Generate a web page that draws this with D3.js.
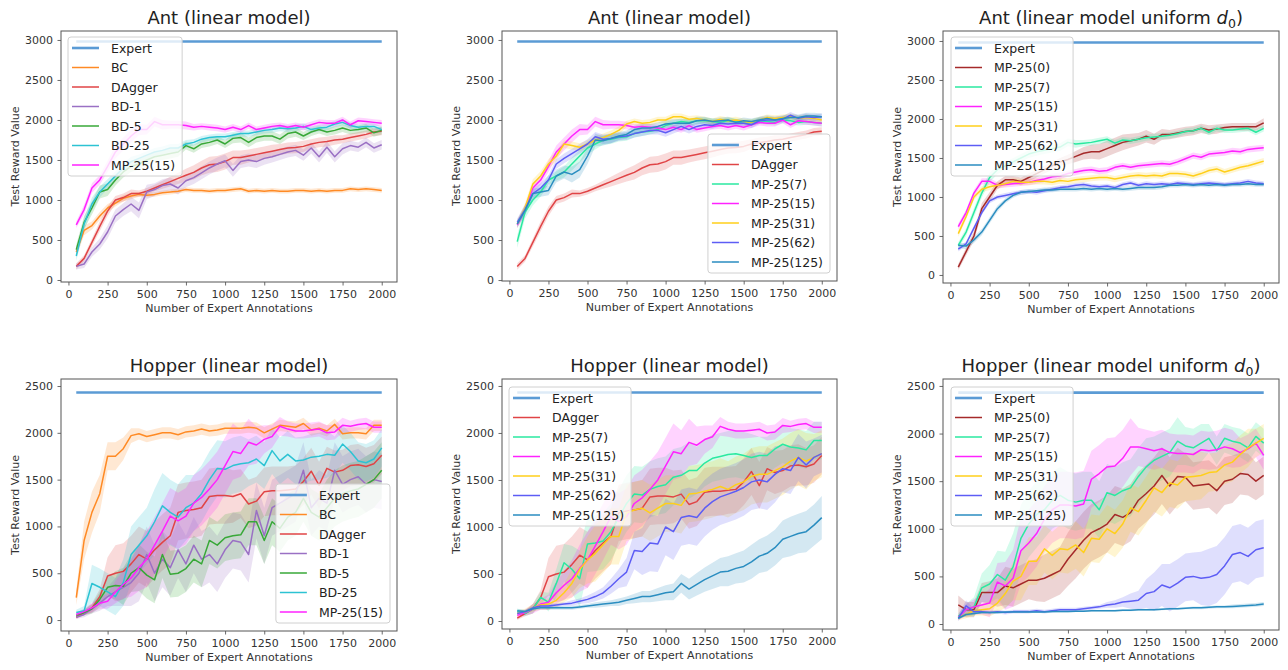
<!DOCTYPE html>
<html>
<head>
<meta charset="utf-8">
<script src="https://cdnjs.cloudflare.com/ajax/libs/d3/7.8.5/d3.min.js"></script>
<style>
body { margin: 0; background: #fff; }
svg { font-family: "DejaVu Sans", sans-serif; }
</style>
</head>
<body>
<script>
// x positions: number of expert annotations
var annotations = [50,100,150,200,250,300,350,400,450,500,550,600,650,700,750,800,850,900,950,1000,
  1050,1100,1150,1200,1250,1300,1350,1400,1450,1500,1550,1600,1650,1700,1750,1800,1850,1900,1950,2000];
var xTicks = [0,250,500,750,1000,1250,1500,1750,2000];
var antTicks = [0,500,1000,1500,2000,2500,3000];
var hopTicks = [0,500,1000,1500,2000,2500];

var antExpert = 2980;
var hopExpert = 2430;

// ---- Ant (linear model) ----
var antBC = [350,620,680,800,900,960,1020,1050,1070,1060,1070,1090,1100,1110,1130,1120,1120,1110,1120,1120,1130,1140,1110,1120,1110,1120,1110,1110,1120,1120,1110,1120,1110,1120,1120,1140,1130,1140,1130,1120];
var antBCSd = [60,60,50,50,50,40,40,40,30,30,30,30,30,30,30,30,30,30,30,30,30,30,30,30,30,30,30,30,30,30,30,30,30,30,30,30,30,30,30,30];
var antDAgger = [170,270,470,670,860,1000,1030,1080,1080,1110,1150,1190,1230,1270,1310,1345,1400,1440,1450,1480,1530,1530,1550,1570,1590,1610,1630,1650,1655,1670,1700,1720,1730,1750,1760,1780,1800,1820,1850,1860];
var antDAggerSd = [40,40,50,60,60,50,50,50,40,40,40,50,60,70,80,90,90,100,100,100,90,90,80,80,80,80,70,70,70,70,60,60,60,60,50,50,50,50,50,50];
var antBD1 = [170,200,350,450,600,800,880,950,870,1100,1130,1180,1200,1150,1240,1280,1340,1400,1450,1490,1370,1480,1500,1480,1520,1540,1570,1600,1620,1560,1650,1540,1660,1540,1640,1680,1660,1720,1650,1690];
var antBD1Sd = [40,50,60,70,80,80,80,90,100,90,80,80,80,80,80,80,80,80,80,80,80,80,80,80,80,70,70,70,70,70,70,70,70,70,70,60,60,60,60,60];
var antBD5 = [380,720,900,1100,1130,1250,1350,1420,1450,1500,1540,1560,1580,1600,1680,1640,1700,1720,1750,1700,1770,1780,1720,1780,1800,1800,1760,1830,1850,1800,1850,1880,1850,1870,1900,1870,1880,1900,1840,1870];
var antBD5Sd = [60,80,80,80,80,70,70,70,70,60,60,60,60,60,50,50,50,50,50,50,60,60,60,60,60,60,60,60,60,50,50,50,50,50,50,50,50,50,50,50];
var antBD25 = [300,700,950,1100,1200,1300,1400,1480,1520,1560,1600,1620,1650,1650,1700,1720,1760,1780,1790,1790,1810,1830,1830,1850,1870,1880,1900,1890,1900,1920,1880,1900,1910,1950,1970,1930,1910,1920,1920,1880];
var antBD25Sd = [60,80,80,70,60,60,60,60,50,50,50,50,50,50,50,40,40,40,40,40,40,40,40,40,40,40,40,40,40,40,40,40,40,40,40,40,40,40,40,40];
var antMP15 = [690,880,1150,1250,1420,1600,1700,1800,1880,1880,1980,1940,1940,1940,1930,1910,1920,1910,1900,1880,1910,1880,1930,1880,1900,1920,1930,1910,1930,1910,1940,1970,1960,1960,2000,1940,1990,1980,1970,1960];
var antMP15Sd = [40,60,60,60,70,80,80,80,70,60,60,60,50,50,50,40,40,40,40,40,40,40,40,40,40,40,40,40,40,40,40,40,40,40,40,40,40,40,40,40];
var antMP7 = [480,850,1000,1100,1250,1300,1350,1450,1550,1650,1700,1750,1760,1780,1790,1830,1850,1860,1880,1930,1960,1980,1970,1990,1990,1980,1970,1990,1980,1960,1970,1990,1980,1970,2000,1990,1970,1980,1970,1960];
var antMP7Sd = [80,80,70,60,60,60,70,80,80,80,70,60,60,50,50,50,50,40,40,40,40,40,40,40,40,40,40,40,40,40,40,40,40,40,40,40,40,40,40,40];
var antMP31 = [700,900,1200,1300,1450,1550,1700,1680,1660,1700,1750,1780,1820,1870,1950,1980,1960,1970,2000,2000,2040,2040,2010,2020,2000,1980,2010,1990,2000,1980,1970,2000,2030,2020,2030,2040,2020,2030,2020,2000];
var antMP31Sd = [50,60,60,60,60,60,50,50,50,50,50,50,50,50,40,40,40,40,40,40,40,40,40,40,40,40,40,40,40,40,40,40,40,40,40,40,40,40,40,40];
var antMP62 = [720,880,1080,1150,1250,1450,1520,1580,1640,1700,1790,1760,1770,1790,1800,1830,1850,1870,1870,1840,1880,1920,1880,1920,1940,1930,1960,1950,1960,1960,1940,1990,2000,2000,2010,2060,2020,2040,2030,2040];
var antMP62Sd = [50,60,60,60,60,60,60,60,60,60,60,60,60,50,50,50,50,50,50,50,50,50,50,50,40,40,40,40,40,40,40,40,40,40,40,40,40,40,40,40];
var antMP125 = [700,870,1080,1100,1120,1300,1350,1320,1380,1550,1750,1740,1770,1800,1820,1880,1900,1900,1920,1950,1960,1960,1960,1990,2000,1980,1990,2000,1970,1990,1980,2000,2020,2000,2020,2030,2030,2050,2050,2040];
var antMP125Sd = [50,60,60,60,60,80,80,100,100,100,80,60,60,50,50,50,50,50,50,50,50,50,50,50,40,40,40,40,40,40,40,40,40,40,40,40,40,40,40,40];

// ---- Ant (linear model uniform d0) ----
var antU0 = [100,300,500,850,1000,1150,1220,1220,1200,1250,1300,1350,1400,1450,1480,1520,1560,1580,1580,1620,1660,1700,1720,1740,1780,1740,1800,1800,1820,1840,1850,1880,1860,1870,1890,1900,1900,1900,1900,1950];
var antU0Sd = [40,50,60,70,60,50,50,50,50,50,50,50,50,50,60,70,80,90,100,100,100,100,90,80,80,70,70,60,60,60,60,60,60,60,50,50,50,50,50,60];
var antU7 = [380,550,800,1050,1250,1350,1400,1450,1500,1550,1580,1600,1620,1640,1700,1680,1690,1700,1720,1740,1690,1730,1720,1740,1760,1770,1780,1790,1810,1840,1850,1880,1830,1880,1860,1860,1870,1880,1830,1880];
var antU7Sd = [40,50,60,60,60,60,50,50,50,50,50,50,50,50,50,50,40,40,40,40,40,40,40,40,40,40,40,40,40,40,40,40,40,40,40,40,40,40,40,40];
var antU15 = [620,800,1050,1200,1200,1150,1160,1170,1180,1190,1210,1230,1260,1270,1300,1320,1340,1350,1330,1340,1380,1400,1380,1400,1410,1420,1430,1420,1450,1490,1530,1510,1550,1560,1570,1590,1580,1610,1620,1630];
var antU15Sd = [40,40,40,40,40,40,40,40,40,40,40,40,40,40,40,40,40,40,40,40,40,40,40,40,40,40,40,40,40,40,40,40,40,40,40,40,40,40,40,40];
var antU31 = [530,750,1000,1100,1130,1150,1170,1200,1190,1190,1200,1200,1190,1210,1200,1220,1230,1240,1250,1250,1230,1250,1270,1280,1270,1280,1270,1300,1300,1290,1270,1300,1340,1360,1320,1350,1380,1400,1430,1460];
var antU31Sd = [40,40,40,40,40,40,40,40,40,40,40,40,40,40,40,40,40,40,40,40,40,40,40,40,40,40,40,40,40,40,40,40,40,40,40,40,40,40,40,40];
var antU62 = [330,400,600,800,950,1000,1020,1040,1060,1070,1060,1080,1100,1120,1130,1150,1160,1140,1130,1140,1120,1160,1180,1150,1170,1160,1170,1160,1180,1170,1160,1170,1180,1170,1160,1170,1180,1200,1180,1170];
var antU62Sd = [30,30,30,30,30,30,30,30,30,30,30,30,30,30,30,30,30,30,30,30,30,30,30,30,30,30,30,30,30,30,30,30,30,30,30,30,30,30,30,30];
var antU125 = [380,370,450,550,700,850,950,1020,1060,1070,1080,1090,1090,1100,1100,1100,1110,1100,1110,1100,1110,1100,1110,1120,1120,1120,1130,1150,1150,1160,1150,1160,1150,1160,1150,1160,1160,1170,1160,1160];
var antU125Sd = [30,40,40,40,40,40,30,30,30,30,30,30,30,30,30,30,30,30,30,30,30,30,30,30,30,30,30,30,30,30,30,30,30,30,30,30,30,30,30,30];

// ---- Hopper (linear model) ----
var hopBC = [240,850,1150,1350,1750,1750,1830,1970,1990,1960,1980,2000,2000,1980,2010,2020,2040,2020,2030,2050,2050,2050,2060,2050,2000,2040,2080,2070,2060,2100,2030,2050,2020,2090,1990,2000,2000,1990,2080,2080];
var hopBCSd = [80,200,220,200,150,150,120,80,60,60,60,60,60,60,60,60,60,60,60,60,60,60,60,60,60,60,60,60,60,60,60,60,60,60,60,60,60,60,60,60];
var hopDAgger = [30,80,130,250,470,500,520,600,700,650,750,830,900,1150,1170,1180,1200,1320,1330,1330,1320,1350,1240,1270,1370,1380,1380,1390,1400,1480,1590,1440,1620,1580,1600,1650,1660,1640,1670,1760];
var hopDAggerSd = [20,30,50,80,200,300,300,300,300,300,300,300,300,300,300,300,300,300,300,300,280,260,260,260,260,260,260,250,250,250,250,250,230,230,220,220,220,200,200,200];
var hopBD1 = [30,60,120,180,250,300,350,400,500,700,500,650,560,750,600,800,650,700,600,750,850,830,700,1170,900,1200,1250,1300,1350,1600,1200,1300,1250,1600,1450,1500,1530,1450,1500,1480];
var hopBD1Sd = [20,30,50,80,100,150,200,250,300,300,300,300,300,300,300,300,300,300,300,300,300,300,300,300,300,300,300,300,300,300,300,300,300,300,300,300,300,300,300,300];
var hopBD5 = [50,80,120,220,350,370,360,500,560,480,430,700,490,500,550,650,600,850,800,880,900,910,1050,1050,850,1050,980,1100,1150,1300,1150,1100,1200,1300,1350,1380,1400,1450,1500,1600];
var hopBD5Sd = [20,30,50,80,100,150,200,200,250,250,250,250,250,250,250,250,250,250,250,250,250,250,250,250,250,250,250,250,250,250,250,250,300,300,300,300,300,300,300,300];
var hopBD25 = [80,100,390,350,300,250,400,700,800,900,1050,1220,1150,1100,1200,1250,1350,1500,1620,1610,1650,1670,1680,1720,1650,1810,1700,1770,1700,1710,1740,1750,1770,1760,1880,1800,1700,1680,1720,1840];
var hopBD25Sd = [30,50,200,200,200,200,250,300,300,300,350,350,350,350,350,300,300,300,300,300,300,300,250,250,250,250,250,250,250,250,250,250,250,200,200,200,200,200,200,200];
var hopMP15 = [60,90,130,180,200,300,380,450,560,650,800,950,1110,1060,1110,1250,1310,1400,1500,1650,1800,1780,1900,1870,1930,1960,2070,2040,2020,2020,2030,2040,2000,2010,2080,2070,2090,2100,2060,2060];
var hopMP15Sd = [20,30,50,60,80,120,150,200,250,300,300,300,300,300,300,300,300,300,300,300,300,250,250,200,150,120,100,80,80,80,80,80,80,80,80,60,60,60,60,60];
var hopMP7 = [100,80,130,250,200,400,620,550,450,820,830,850,950,1100,1250,1350,1340,1400,1430,1450,1530,1550,1600,1600,1680,1730,1750,1770,1780,1760,1740,1760,1760,1830,1880,1850,1840,1820,1920,1920];
var hopMP7Sd = [30,30,50,60,100,150,200,250,300,300,300,300,300,300,300,300,300,300,300,300,300,300,300,250,250,250,250,250,250,250,250,200,200,200,200,200,200,200,200,200];
var hopMP31 = [80,100,140,170,180,220,300,400,550,650,720,810,900,900,1150,1180,1200,1150,1200,1250,1250,1230,1350,1360,1380,1400,1430,1400,1450,1480,1540,1560,1560,1600,1640,1700,1740,1700,1740,1780];
var hopMP31Sd = [30,30,40,50,60,80,100,150,200,250,300,300,300,300,300,300,300,300,300,300,300,300,300,300,300,300,300,300,300,300,300,300,300,300,300,300,300,300,250,250];
var hopMP62 = [80,100,140,160,160,170,180,190,210,230,260,300,370,450,520,750,740,830,820,1000,950,1100,1120,1100,1200,1270,1320,1350,1380,1420,1480,1500,1480,1560,1620,1600,1740,1660,1740,1780];
var hopMP62Sd = [20,20,20,20,20,20,20,30,30,40,50,60,80,100,150,200,250,300,300,300,300,300,300,300,300,300,300,300,300,300,300,300,300,300,250,250,250,250,200,200];
var hopMP125 = [110,100,130,140,140,140,140,140,150,160,170,180,190,200,220,240,260,260,280,300,310,400,340,390,440,480,520,530,560,580,630,690,720,780,870,900,930,950,1020,1100];
var hopMP125Sd = [20,20,20,20,20,20,20,20,20,20,30,30,30,40,40,50,60,60,70,80,90,100,110,120,130,140,150,160,160,170,180,180,190,190,200,210,210,220,220,230];

// ---- Hopper (linear model uniform d0) ----
var hopU0 = [200,150,150,330,330,330,400,380,420,460,460,480,520,560,680,780,880,960,1000,1050,1150,1120,1170,1300,1370,1450,1560,1450,1550,1540,1450,1460,1470,1400,1500,1520,1580,1570,1500,1560];
var hopU0Sd = [100,80,80,100,120,150,200,200,200,200,220,250,250,250,280,300,300,300,300,300,300,300,300,300,300,300,300,300,300,250,250,250,250,250,250,250,220,220,200,200];
var hopU7 = [80,150,180,380,420,520,460,600,900,1050,1150,1200,1300,1350,1300,1280,1300,1300,1200,1380,1350,1400,1430,1550,1650,1720,1760,1800,1920,1870,1850,1900,1950,1820,1950,1920,1900,1850,1970,1900];
var hopU7Sd = [30,60,100,150,200,250,300,350,350,350,350,300,300,300,300,300,300,300,300,300,300,300,300,300,300,250,250,250,250,200,200,200,150,150,150,150,150,150,150,150];
var hopU15 = [70,150,180,200,220,440,400,480,770,850,950,1100,1200,1250,1250,1240,1260,1520,1580,1650,1660,1740,1860,1860,1840,1820,1840,1800,1790,1790,1780,1830,1820,1830,1860,1840,1800,1840,1900,1770];
var hopU15Sd = [30,60,80,100,150,200,250,300,350,350,350,350,350,350,350,350,350,300,300,300,300,300,300,200,200,200,200,200,200,200,200,200,200,200,200,200,150,150,150,150];
var hopU31 = [70,100,140,150,160,220,320,450,500,660,660,790,720,790,780,830,750,900,890,1000,950,1050,1220,1180,1300,1430,1380,1480,1460,1540,1550,1560,1590,1600,1670,1700,1780,1850,1900,1950];
var hopU31Sd = [30,40,50,60,80,100,150,200,250,250,250,250,250,250,250,250,250,250,250,250,250,250,250,250,250,250,250,250,250,250,250,250,200,200,200,200,200,200,150,150];
var hopU62 = [60,190,130,130,120,130,120,130,130,130,140,130,140,150,150,150,160,170,180,200,210,230,240,250,320,340,410,380,430,490,500,480,490,520,610,730,750,710,780,800];
var hopU62Sd = [30,60,30,20,20,20,20,20,20,20,20,20,20,20,20,20,20,20,20,30,40,50,80,100,150,200,220,250,250,250,250,280,300,300,300,300,300,300,300,300];
var hopU125 = [60,100,110,120,120,120,125,125,125,125,125,125,130,130,130,135,135,140,140,140,140,145,145,150,150,150,155,160,160,165,170,170,175,180,180,185,190,195,200,210];
var hopU125Sd = [10,20,10,10,10,10,10,10,10,10,10,10,10,10,10,10,10,10,10,10,10,10,10,10,10,10,10,10,10,10,15,15,15,15,15,20,20,20,20,20];

// Colours
var cExpert = '#5b9bd5', cBC = '#ff8a24', cDAgger = '#e04446', cBD1 = '#9a70c4', cBD5 = '#38a838',
    cBD25 = '#2cc3d3', cMP15 = '#ff22ff', cMP7 = '#2ae9a0', cMP31 = '#ffcf1a', cMP62 = '#5d5df5',
    cMP125 = '#2a8dc0', cMP0 = '#a52a2a';

var panels = [
  { id: 1, title: 'Ant (linear model)', left: 61, right: 397, top: 31, bottom: 282,
    yDomain: [-25, 3112], yTicks: antTicks, expert: antExpert, legend: { corner: 'tl', dx: 7, dy: 6 },
    series: [
      { name: 'BC', color: cBC, mean: antBC, sd: antBCSd },
      { name: 'DAgger', color: cDAgger, mean: antDAgger, sd: antDAggerSd },
      { name: 'BD-1', color: cBD1, mean: antBD1, sd: antBD1Sd },
      { name: 'BD-5', color: cBD5, mean: antBD5, sd: antBD5Sd },
      { name: 'BD-25', color: cBD25, mean: antBD25, sd: antBD25Sd },
      { name: 'MP-25(15)', color: cMP15, mean: antMP15, sd: antMP15Sd }
    ] },
  { id: 2, title: 'Ant (linear model)', left: 502, right: 837, top: 31, bottom: 281,
    yDomain: [-12, 3112], yTicks: antTicks, expert: antExpert, legend: { corner: 'br', dx: 7, dy: 8 },
    series: [
      { name: 'DAgger', color: cDAgger, mean: antDAgger, sd: antDAggerSd },
      { name: 'MP-25(7)', color: cMP7, mean: antMP7, sd: antMP7Sd },
      { name: 'MP-25(15)', color: cMP15, mean: antMP15, sd: antMP15Sd },
      { name: 'MP-25(31)', color: cMP31, mean: antMP31, sd: antMP31Sd },
      { name: 'MP-25(62)', color: cMP62, mean: antMP62, sd: antMP62Sd },
      { name: 'MP-25(125)', color: cMP125, mean: antMP125, sd: antMP125Sd }
    ] },
  { id: 3, title: 'Ant (linear model uniform ', sub: true, left: 943, right: 1279, top: 31, bottom: 283,
    yDomain: [-103, 3128], yTicks: antTicks, expert: antExpert, legend: { corner: 'tl', dx: 8, dy: 6 },
    series: [
      { name: 'MP-25(0)', color: cMP0, mean: antU0, sd: antU0Sd },
      { name: 'MP-25(7)', color: cMP7, mean: antU7, sd: antU7Sd },
      { name: 'MP-25(15)', color: cMP15, mean: antU15, sd: antU15Sd },
      { name: 'MP-25(31)', color: cMP31, mean: antU31, sd: antU31Sd },
      { name: 'MP-25(62)', color: cMP62, mean: antU62, sd: antU62Sd },
      { name: 'MP-25(125)', color: cMP125, mean: antU125, sd: antU125Sd }
    ] },
  { id: 4, title: 'Hopper (linear model)', left: 61, right: 397, top: 379, bottom: 631,
    yDomain: [-117, 2575], yTicks: hopTicks, expert: hopExpert, legend: { corner: 'br', dx: 7, dy: 8 },
    series: [
      { name: 'BC', color: cBC, mean: hopBC, sd: hopBCSd },
      { name: 'DAgger', color: cDAgger, mean: hopDAgger, sd: hopDAggerSd },
      { name: 'BD-1', color: cBD1, mean: hopBD1, sd: hopBD1Sd },
      { name: 'BD-5', color: cBD5, mean: hopBD5, sd: hopBD5Sd },
      { name: 'BD-25', color: cBD25, mean: hopBD25, sd: hopBD25Sd },
      { name: 'MP-25(15)', color: cMP15, mean: hopMP15, sd: hopMP15Sd }
    ] },
  { id: 5, title: 'Hopper (linear model)', left: 502, right: 837, top: 379, bottom: 629,
    yDomain: [-85, 2574], yTicks: hopTicks, expert: hopExpert, legend: { corner: 'tl', dx: 7, dy: 8 },
    series: [
      { name: 'DAgger', color: cDAgger, mean: hopDAgger, sd: hopDAggerSd },
      { name: 'MP-25(7)', color: cMP7, mean: hopMP7, sd: hopMP7Sd },
      { name: 'MP-25(15)', color: cMP15, mean: hopMP15, sd: hopMP15Sd },
      { name: 'MP-25(31)', color: cMP31, mean: hopMP31, sd: hopMP31Sd },
      { name: 'MP-25(62)', color: cMP62, mean: hopMP62, sd: hopMP62Sd },
      { name: 'MP-25(125)', color: cMP125, mean: hopMP125, sd: hopMP125Sd }
    ] },
  { id: 6, title: 'Hopper (linear model uniform ', sub: true, left: 943, right: 1279, top: 379, bottom: 630,
    yDomain: [-63, 2573], yTicks: hopTicks, expert: hopExpert, legend: { corner: 'tl', dx: 8, dy: 8 },
    series: [
      { name: 'MP-25(0)', color: cMP0, mean: hopU0, sd: hopU0Sd },
      { name: 'MP-25(7)', color: cMP7, mean: hopU7, sd: hopU7Sd },
      { name: 'MP-25(15)', color: cMP15, mean: hopU15, sd: hopU15Sd },
      { name: 'MP-25(31)', color: cMP31, mean: hopU31, sd: hopU31Sd },
      { name: 'MP-25(62)', color: cMP62, mean: hopU62, sd: hopU62Sd },
      { name: 'MP-25(125)', color: cMP125, mean: hopU125, sd: hopU125Sd }
    ] }
];

var svg = d3.select('body').append('svg')
  .attr('width', 1288)
  .attr('height', 670);

panels.forEach(drawPanel);

function drawPanel(p) {
  var x = d3.scaleLinear().domain([-47.5, 2097.5]).range([p.left, p.right]);
  var y = d3.scaleLinear().domain(p.yDomain).range([p.bottom, p.top]);
  var g = svg.append('g');

  g.append('clipPath').attr('id', 'clip' + p.id)
    .append('rect')
    .attr('x', p.left).attr('y', p.top)
    .attr('width', p.right - p.left).attr('height', p.bottom - p.top);

  var plot = g.append('g').attr('clip-path', 'url(#clip' + p.id + ')');

  // bands first (like matplotlib's collections), then lines
  p.series.forEach(function(s) {
    var area = d3.area()
      .x(function(d, i) { return x(annotations[i]); })
      .y0(function(d, i) { return y(d - s.sd[i]); })
      .y1(function(d, i) { return y(d + s.sd[i]); });
    plot.append('path').datum(s.mean)
      .attr('d', area)
      .attr('fill', s.color)
      .attr('fill-opacity', 0.2);
  });

  plot.append('line')
    .attr('x1', x(annotations[0])).attr('x2', x(annotations[annotations.length - 1]))
    .attr('y1', y(p.expert)).attr('y2', y(p.expert))
    .attr('stroke', cExpert).attr('stroke-width', 2.6);

  var line = d3.line().x(function(d, i) { return x(annotations[i]); }).y(function(d) { return y(d); });
  p.series.forEach(function(s) {
    plot.append('path').datum(s.mean)
      .attr('d', line)
      .attr('fill', 'none')
      .attr('stroke', s.color)
      .attr('stroke-width', 1.5)
      .attr('stroke-linejoin', 'round');
  });

  // axes
  var yAxis = g.append('g').attr('transform', 'translate(' + p.left + ',0)')
    .call(d3.axisLeft(y).tickValues(p.yTicks).tickSize(3.5).tickPadding(4.5).tickFormat(d3.format('d')));
  var xAxis = g.append('g').attr('transform', 'translate(0,' + p.bottom + ')')
    .call(d3.axisBottom(x).tickValues(xTicks).tickSize(3.5).tickPadding(4.7).tickFormat(d3.format('d')));
  [xAxis, yAxis].forEach(function(a) {
    a.select('.domain').remove();
    a.selectAll('.tick line').attr('stroke', '#444').attr('stroke-width', 0.8);
    a.selectAll('.tick text').attr('fill', '#333').style('font-size', '11px').style('font-family', '"DejaVu Sans", sans-serif');
  });

  g.append('rect')
    .attr('x', p.left).attr('y', p.top)
    .attr('width', p.right - p.left).attr('height', p.bottom - p.top)
    .attr('fill', 'none').attr('stroke', '#555').attr('stroke-width', 1);

  // titles and labels
  var t = g.append('text')
    .attr('x', (p.left + p.right) / 2).attr('y', p.top - 7)
    .attr('text-anchor', 'middle').attr('fill', '#222')
    .style('font-size', '18px')
    .text(p.title);
  if (p.sub) {
    t.append('tspan').style('font-style', 'italic').text('d');
    t.append('tspan').attr('dy', 4).style('font-size', '12.5px').text('0');
    t.append('tspan').attr('dy', -4).text(')');
  }

  g.append('text')
    .attr('x', (p.left + p.right) / 2).attr('y', p.bottom + 30)
    .attr('text-anchor', 'middle').attr('fill', '#333')
    .style('font-size', '11px')
    .text('Number of Expert Annotations');

  g.append('text')
    .attr('transform', 'translate(' + (p.left - 42) + ',' + ((p.top + p.bottom) / 2) + ') rotate(-90)')
    .attr('text-anchor', 'middle').attr('fill', '#333')
    .style('font-size', '11px')
    .text('Test Reward Value');

  drawLegend(g, p);
}

function drawLegend(g, p) {
  var items = [{ name: 'Expert', color: cExpert, width: 2.6 }].concat(
    p.series.map(function(s) { return { name: s.name, color: s.color, width: 1.5 }; }));
  var lg = g.append('g');
  var box = lg.append('rect')
    .attr('rx', 3).attr('ry', 3)
    .attr('fill', '#fff').attr('fill-opacity', 0.8)
    .attr('stroke', '#d0d0d0').attr('stroke-width', 1);
  var rowH = 19.5;
  var maxW = 0;
  items.forEach(function(it, i) {
    var cy = 11 + i * rowH;
    lg.append('line')
      .attr('x1', 4).attr('x2', 31).attr('y1', cy).attr('y2', cy)
      .attr('stroke', it.color).attr('stroke-width', it.width);
    var tx = lg.append('text')
      .attr('x', 43).attr('y', cy + 4.6)
      .attr('fill', '#222')
      .style('font-size', '12.5px')
      .text(it.name);
    maxW = Math.max(maxW, tx.node().getComputedTextLength());
  });
  var w = 43 + maxW + 7;
  var h = 22 + (items.length - 1) * rowH;
  box.attr('width', w).attr('height', h);
  var lx, ly;
  if (p.legend.corner === 'tl') {
    lx = p.left + p.legend.dx; ly = p.top + p.legend.dy;
  } else {
    lx = p.right - p.legend.dx - w; ly = p.bottom - p.legend.dy - h;
  }
  lg.attr('transform', 'translate(' + lx + ',' + ly + ')');
}
</script>
</body>
</html>
